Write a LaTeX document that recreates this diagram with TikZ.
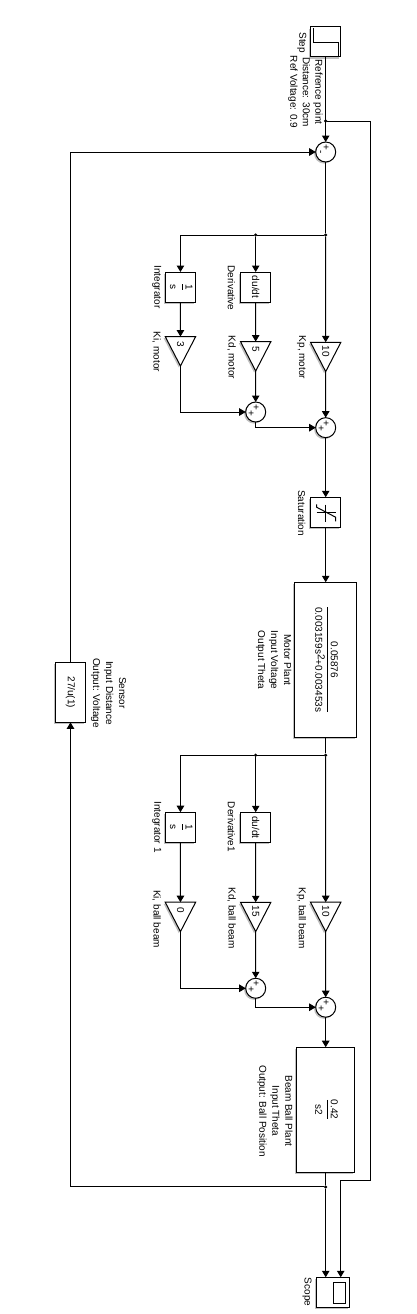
\documentclass[tikz,border=0pt]{standalone}
\usepackage{fontspec}
\setmainfont{Liberation Sans}
\usetikzlibrary{shapes.geometric,positioning,calc,shadows,arrows.meta}

\newcommand{\rot}[1]{\rotatebox{-90}{#1}}
\newcommand{\rotfrac}[2]{\rotatebox{-90}{\begin{tabular}{@{}c@{}}#1\\[-0.5pt]\hline\rule{0pt}{11.5pt}#2\end{tabular}}}

\begin{document}
\begin{tikzpicture}[x=1pt, y=-1pt, line width=1pt,
        >={Triangle[length=6.5pt,width=7.5pt]},
        every node/.style={outer sep=0pt, inner sep=0pt, font=\fontsize{10}{13}\selectfont},
        softshadow/.style={drop shadow={shadow xshift=-1.6pt, shadow yshift=-1.6pt, opacity=0.5}},
        block/.style={draw, rectangle, fill=white, softshadow, minimum width=30.4pt, minimum height=30pt, align=center},
        gain/.style={draw, isosceles triangle, isosceles triangle stretches, shape border rotate=-90, fill=white, softshadow, minimum width=30.4pt, minimum height=29.4pt},
        sumnode/.style={draw, circle, fill=white, softshadow, minimum size=20pt},
        splitdot/.style={circle, fill=black, minimum size=3.5pt},
        lbl/.style={rotate=-90, align=center},
        sign/.style={font=\fontsize{10}{10}\selectfont}
    ]
        \useasboundingbox (0,0) rectangle (417,1314);

        % Reference and error sum
        \node [block, minimum height=30pt, minimum width=30.5pt] (step) at (325.7,42) {};
        \node [splitdot, below=62.25pt of step] (refsplit) {};
        \node [sumnode, below=85pt of step] (sumerr) {};
        \node [sign] (sumerrp) at ($(sumerr)+(0,-5)$) {\rot{+}};
        \node [sign] (sumerrm) at ($(sumerr)+(-6,0.5)$) {\rot{-}};
        \draw ($(step.north west)+(3,1.5)$) -- ($(step.north west)+(3,15.7)$) -- ($(step.north east)+(-2.3,15.7)$) -- ($(step.south east)+(-2.3,-0.5)$);

        % Motor controller
        \node [splitdot, below=71.25pt of sumerr] (motorsplit) {};
        \node [splitdot, left=66.5pt of motorsplit] (dsplitm) {};
        \node [coordinate, left=73.5pt of dsplitm] (icornerm) {};
        \node [block, below=37pt of icornerm] (integm) {\rotfrac{1}{s}};
        \node [block, below=35.25pt of dsplitm] (derivm) {\rot{du/dt}};
        \node [gain, below=34.6pt of integm] (kim) {\rot{3}};
        \node [gain, below=39.6pt of derivm] (kdm) {\rot{5}};
        \node [gain, below=105.5pt of motorsplit] (kpm) {\rot{10}};
        \node [sumnode, below=31pt of kdm] (sumdm) {};
        \node [sumnode, below=46pt of kpm] (sumpm) {};
        \node [sign] (sumdma) at ($(sumdm)+(0,-4.5)$) {\rot{+}};
        \node [sign] (sumdmb) at ($(sumdm)+(-5,1)$) {\rot{+}};
        \node [sign] (sumpma) at ($(sumpm)+(0,-4.5)$) {\rot{+}};
        \node [sign] (sumpmb) at ($(sumpm)+(-5,1)$) {\rot{+}};

        % Saturation and motor plant
        \node [block, below=59.6pt of sumpm] (sat) {};
        \draw (sat.center |- 0,504.7) -- (sat.center |- 0,522);
        \draw ($(sat.center)+(-9,0)$) -- ($(sat.center)+(10,0)$);
        \draw ($(sat.center)+(-9,-8)$) -- ($(sat.center)+(-9,-5)$) -- ($(sat.center)+(10,5)$) -- ($(sat.center)+(10,9)$);
        \node [block, below=55pt of sat, minimum width=62.4pt, minimum height=155pt] (motor) {\rotfrac{0.05876}{0.003159s\raisebox{2.5pt}{2}+0.003453s}};

        % Ball beam controller
        \node [splitdot, below=16.2pt of motor] (ballsplit) {};
        \node [splitdot, left=66.5pt of ballsplit] (dsplitb) {};
        \node [coordinate, left=73.5pt of dsplitb] (icornerb) {};
        \node [block, below=57pt of icornerb] (integb) {\rotfrac{1}{s}};
        \node [block, below=55.3pt of dsplitb] (derivb) {\rot{du/dt}};
        \node [gain, below=60pt of integb] (kib) {\rot{0}};
        \node [gain, below=60pt of derivb] (kdb) {\rot{15}};
        \node [gain, below=145.25pt of ballsplit] (kpb) {\rot{10}};
        \node [sumnode, below=46.6pt of kdb] (sumdb) {};
        \node [sumnode, below=65.6pt of kpb] (sumpb) {};
        \node [sign] (sumdba) at ($(sumdb)+(0,-4.5)$) {\rot{+}};
        \node [sign] (sumdbb) at ($(sumdb)+(-5,1)$) {\rot{+}};
        \node [sign] (sumpba) at ($(sumpb)+(0,-4.5)$) {\rot{+}};
        \node [sign] (sumpbb) at ($(sumpb)+(-5,1)$) {\rot{+}};

        % Beam plant, scope and sensor
        \node [block, below=30pt of sumpb, minimum width=58pt, minimum height=125pt] (beam) {\rotfrac{0.42}{s2}};
        \node [splitdot, below=13pt of beam] (outsplit) {};
        \node [block, below=88.55pt of outsplit, xshift=7.3pt, minimum width=33.4pt, minimum height=30.4pt] (scope) {};
        \draw ([xshift=-4pt,yshift=-5pt]scope.north east) rectangle ([xshift=-16.4pt,yshift=3.7pt]scope.south east);
        \node [block, minimum height=60pt] (sensor) at (70.5,692.3) {\rot{27/u(1)}};
        \node [coordinate] (ffcorner) at (370,1180.3) {};

        % Signals
        \draw [->] (step) -- (sumerr);
        \draw (sumerr) -- (motorsplit);
        \draw (motorsplit) -- (dsplitm);
        \draw [->] (dsplitm) -- (icornerm) -- (integm);
        \draw [->] (dsplitm) -- (derivm);
        \draw [->] (motorsplit) -- (kpm);
        \draw [->] (integm) -- (kim);
        \draw [->] (derivm) -- (kdm);
        \draw [->] (kim.apex) |- (sumdm);
        \draw [->] (kdm.apex) -- (sumdm);
        \draw [->] (kpm.apex) -- (sumpm);
        \draw [->] (sumdm) |- (sumpm);
        \draw [->] (sumpm) -- (sat);
        \draw [->] (sat) -- (motor);
        \draw (motor) -- (ballsplit);
        \draw (ballsplit) -- (dsplitb);
        \draw [->] (dsplitb) -- (icornerb) -- (integb);
        \draw [->] (dsplitb) -- (derivb);
        \draw [->] (ballsplit) -- (kpb);
        \draw [->] (integb) -- (kib);
        \draw [->] (derivb) -- (kdb);
        \draw [->] (kib.apex) |- (sumdb);
        \draw [->] (kdb.apex) -- (sumdb);
        \draw [->] (kpb.apex) -- (sumpb);
        \draw [->] (sumdb) |- (sumpb);
        \draw [->] (sumpb) -- (beam);
        \draw (beam) -- (outsplit);
        \draw [->] (outsplit) -- (outsplit |- scope.north);
        \draw [->] (outsplit) -| (sensor);
        \draw [->] (sensor) |- (sumerr);
        \draw [->] (refsplit) -| (ffcorner) -| ([xshift=7.7pt]scope.north);

        % Labels
        \node [lbl] (steplbl) at (301.7,42.7) {Step};
        \node [lbl, font=\fontsize{10}{12.5}\selectfont] (reflbl) at (305.5,92) {Refrence point\\Distance: 30cm\\Ref Voltage: 0.9};
        \node [lbl] (integmlbl) at (156.7,287) {Integrator};
        \node [lbl] (derivmlbl) at (231.5,288) {Derivative};
        \node [lbl] (kimlbl) at (156.7,352) {Ki, motor};
        \node [lbl] (kdmlbl) at (231.5,357.5) {Kd, motor};
        \node [lbl] (kpmlbl) at (301.5,357.5) {Kp, motor};
        \node [lbl] (satlbl) at (301.7,513) {Saturation};
        \node [lbl] (motorlbl) at (273.7,660) {Motor Plant\\Input Voltage\\Output Theta};
        \node [lbl] (sensorlbl) at (108.7,693) {Sensor\\Input Distance\\Output: Voltage};
        \node [lbl] (integblbl) at (156.7,827) {Integrator 1};
        \node [lbl] (derivblbl) at (231.5,827) {Derivative1};
        \node [lbl] (kiblbl) at (156.7,919) {Ki, ball beam};
        \node [lbl] (kdblbl) at (231.5,918) {Kd, ball beam};
        \node [lbl] (kpblbl) at (301.5,918) {Kp, ball beam};
        \node [lbl] (beamlbl) at (275,1111) {Beam Ball Plant\\Input Theta\\Output: Ball Position};
        \node [lbl] (scopelbl) at (307,1292) {Scope};
    \end{tikzpicture}
\end{document}
